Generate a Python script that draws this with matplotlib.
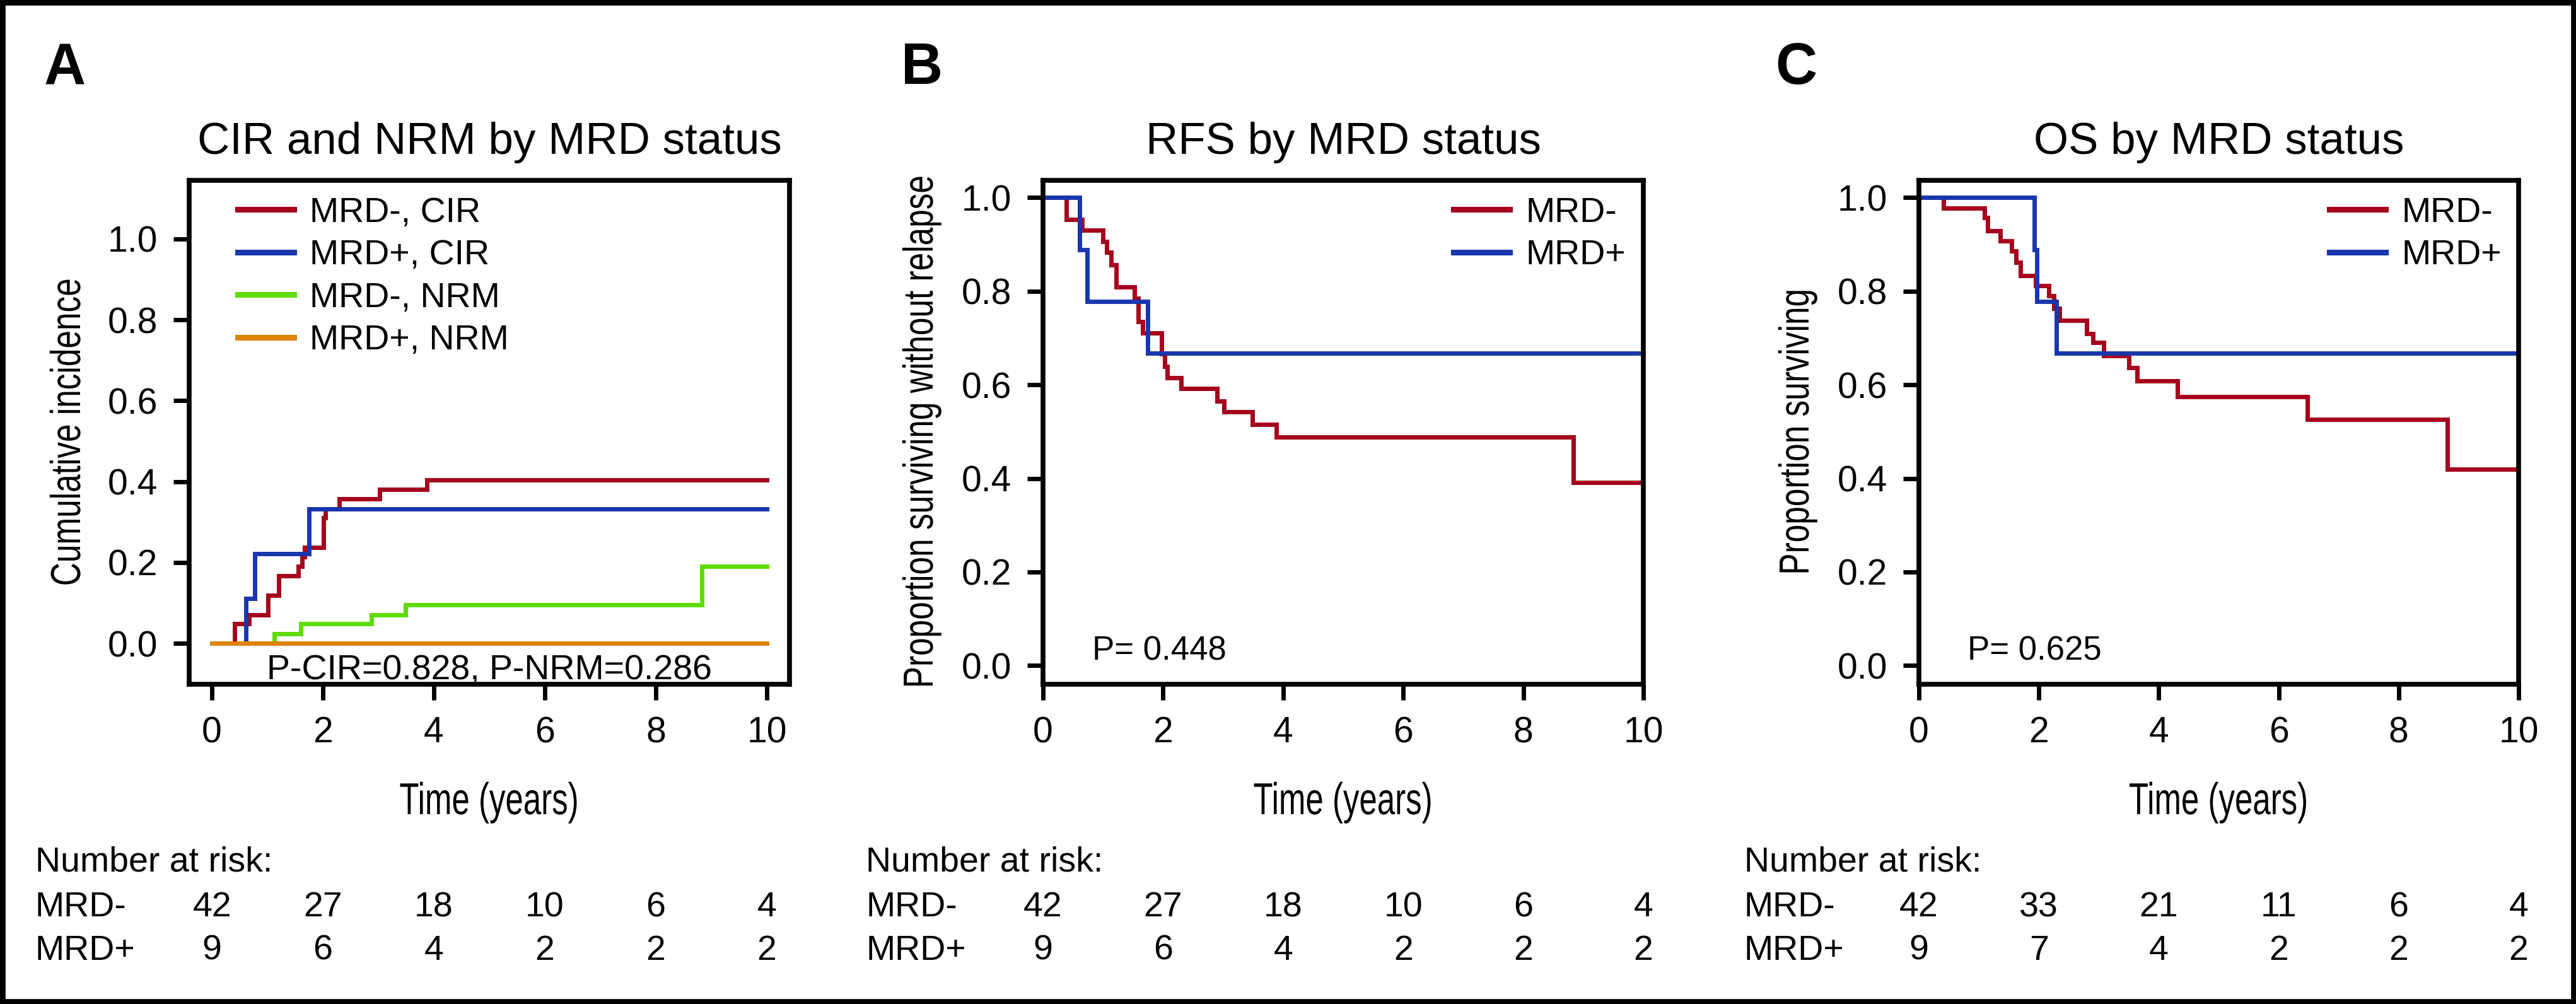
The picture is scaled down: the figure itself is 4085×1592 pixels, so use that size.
import matplotlib
matplotlib.use("Agg")
import matplotlib.pyplot as plt
from matplotlib.transforms import Affine2D, blended_transform_factory
from matplotlib.patches import Rectangle
from matplotlib.patheffects import AbstractPathEffect

plt.rcParams['font.family'] = ['Liberation Sans', 'DejaVu Sans']

W, H = 4085, 1592  # output size in pixels (dpi 100)

# ---- panel A: cumulative incidence of relapse / non-relapse mortality
cir_neg_t = [0, 0.41, 0.67, 1.01, 1.20, 1.56, 1.63, 1.67, 2.01, 2.05, 2.29, 3.02, 3.88]
cir_neg_v = [0, 0.048, 0.071, 0.119, 0.167, 0.190, 0.214, 0.238, 0.310, 0.333, 0.357, 0.381, 0.405]
cir_pos_t = [0, 0.61, 0.77, 1.75]
cir_pos_v = [0, 0.111, 0.222, 0.333]
nrm_neg_t = [0, 1.13, 1.60, 2.87, 3.49, 8.83]
nrm_neg_v = [0, 0.024, 0.048, 0.071, 0.095, 0.190]
nrm_pos_t = [0]
nrm_pos_v = [0]

# ---- panel B: relapse-free survival
rfs_neg_t = [0, 0.39, 0.65, 1.00, 1.06, 1.13, 1.22, 1.52, 1.59, 1.66, 1.98, 2.03, 2.07,
             2.30, 2.90, 3.01, 3.49, 3.89, 8.83]
rfs_neg_v = [1.0, 0.953, 0.930, 0.906, 0.883, 0.857, 0.809, 0.785, 0.735, 0.711, 0.666, 0.640,
             0.615, 0.592, 0.565, 0.542, 0.515, 0.488, 0.391]
rfs_pos_t = [0, 0.61, 0.74, 1.74]
rfs_pos_v = [1.0, 0.889, 0.778, 0.667]

# ---- panel C: overall survival
os_neg_t = [0, 0.41, 1.09, 1.15, 1.36, 1.55, 1.62, 1.69, 1.95, 2.17, 2.25, 2.34, 2.80, 2.90,
            3.08, 3.50, 3.64, 4.31, 6.48, 8.81]
os_neg_v = [1.0, 0.978, 0.957, 0.929, 0.907, 0.886, 0.862, 0.833, 0.812, 0.790, 0.764, 0.738,
            0.710, 0.690, 0.662, 0.636, 0.608, 0.575, 0.526, 0.420]
os_pos_t = [0, 1.92, 1.97, 2.29]
os_pos_v = [1.0, 0.889, 0.778, 0.667]

# ---- numbers at risk
risk_times = [0, 2, 4, 6, 8, 10]
risk_a_neg = [42, 27, 18, 10, 6, 4]
risk_a_pos = [9, 6, 4, 2, 2, 2]
risk_b_neg = [42, 27, 18, 10, 6, 4]
risk_b_pos = [9, 6, 4, 2, 2, 2]
risk_c_neg = [42, 33, 21, 11, 6, 4]
risk_c_pos = [9, 7, 4, 2, 2, 2]

RED = "#a5001c"
BLUE = "#1a36ad"
GREEN = "#5edc00"
ORANGE = "#df8200"
T_END = 10


class Squeeze(AbstractPathEffect):
    """Narrow the glyphs along the text direction (condensed look)."""

    def __init__(self, k):
        super().__init__()
        self.k = k

    def draw_path(self, renderer, gc, tpath, affine, rgbFace=None):
        ext = tpath.get_extents()
        cx = (ext.x0 + ext.x1) / 2
        sq = Affine2D().translate(-cx, 0).scale(self.k, 1).translate(cx, 0)
        renderer.draw_path(gc, tpath, sq + affine, rgbFace)


def fx(px):
    return px / W


def fy(py):
    return 1 - py / H


def stairs(ax, t, v, color, label):
    ax.step(list(t) + [T_END], list(v) + [v[-1]], where="post", color=color, lw=5,
            label=label, solid_joinstyle="miter")


def style(ax):
    for sp in ax.spines.values():
        sp.set_linewidth(5.5)
    ax.set_xticks(range(0, 11, 2))
    ax.set_yticks([0, 0.2, 0.4, 0.6, 0.8, 1.0])
    ax.set_yticklabels(["0.0", "0.2", "0.4", "0.6", "0.8", "1.0"])
    ax.tick_params(direction="out", length=18, width=5, labelsize=41)
    ax.tick_params(axis="x", pad=18)
    ax.tick_params(axis="y", pad=18)


fig = plt.figure(figsize=(W / 100, H / 100), dpi=100)

boxes = [(300, 1252), (1654, 2606), (3043, 3994)]
axs = [fig.add_axes([fx(l), fy(1085), fx(r - l), (1085 - 286) / H]) for l, r in boxes]
axA, axB, axC = axs

# panel A
stairs(axA, cir_neg_t, cir_neg_v, RED, "MRD-, CIR")
stairs(axA, cir_pos_t, cir_pos_v, BLUE, "MRD+, CIR")
stairs(axA, nrm_neg_t, nrm_neg_v, GREEN, "MRD-, NRM")
stairs(axA, nrm_pos_t, nrm_pos_v, ORANGE, "MRD+, NRM")
axA.set_xlim(-0.41, 10.41)
axA.set_ylim(-0.101, 1.145)
axA.text(5, -0.089, "P-CIR=0.828, P-NRM=0.286", ha="center", va="baseline", fontsize=40)

# panel B
stairs(axB, rfs_neg_t, rfs_neg_v, RED, "MRD-")
stairs(axB, rfs_pos_t, rfs_pos_v, BLUE, "MRD+")
axB.set_xlim(0, 10)
axB.set_ylim(-0.04, 1.037)
axB.text(0.82, 0.031, "P= 0.448", va="center", fontsize=38)

# panel C
stairs(axC, os_neg_t, os_neg_v, RED, "MRD-")
stairs(axC, os_pos_t, os_pos_v, BLUE, "MRD+")
axC.set_xlim(0, 10)
axC.set_ylim(-0.04, 1.037)
axC.text(0.81, 0.031, "P= 0.625", va="center", fontsize=38)

titles = ["CIR and NRM by MRD status", "RFS by MRD status", "OS by MRD status"]
ylabels = ["Cumulative incidence", "Proportion surviving without relapse", "Proportion surviving"]
ylab_x = [127, 1479, 2868]
letters = [("A", 70), ("B", 1429), ("C", 2815)]
risk_x = [56, 1373, 2766]
risks = [(risk_a_neg, risk_a_pos), (risk_b_neg, risk_b_pos), (risk_c_neg, risk_c_pos)]
leg_x = [0.081, 0.684, 0.685]

for i, ax in enumerate(axs):
    style(ax)
    ax.set_title(titles[i], fontsize=51, pad=30)
    blend = blended_transform_factory(ax.transData, fig.transFigure)
    ax.text(5, fy(1291), "Time (years)", transform=blend, ha="center", va="baseline",
            fontsize=51, path_effects=[Squeeze(0.72)])
    fig.text(fx(ylab_x[i]), fy(685), ylabels[i], rotation=90, rotation_mode="anchor",
             ha="center", va="baseline", fontsize=48, path_effects=[Squeeze(0.77)])
    fig.text(fx(letters[i][1]), fy(133), letters[i][0], fontsize=66, weight="bold",
             va="baseline")
    leg = ax.legend(loc="upper left", bbox_to_anchor=(leg_x[i], 0.968), frameon=False,
                    fontsize=40, handlelength=1.6, handletextpad=0.45, labelspacing=0.28,
                    borderpad=0, borderaxespad=0)
    for h in leg.get_lines():
        h.set_linewidth(6.5)
    # number at risk table
    fig.text(fx(risk_x[i]), fy(1382), "Number at risk:", va="baseline", fontsize=40)
    fig.text(fx(risk_x[i]), fy(1453), "MRD-", va="baseline", fontsize=40)
    fig.text(fx(risk_x[i]), fy(1522), "MRD+", va="baseline", fontsize=40)
    neg, pos = risks[i]
    for t, n in zip(risk_times, neg):
        ax.text(t, fy(1453), str(n), transform=blend, ha="center", va="baseline", fontsize=40)
    for t, n in zip(risk_times, pos):
        ax.text(t, fy(1522), str(n), transform=blend, ha="center", va="baseline", fontsize=40)

fig.patches.append(Rectangle((0, 0), 1, 1, transform=fig.transFigure, fill=False,
                             lw=12, edgecolor="black"))

fig.savefig("out.png", dpi=100)
